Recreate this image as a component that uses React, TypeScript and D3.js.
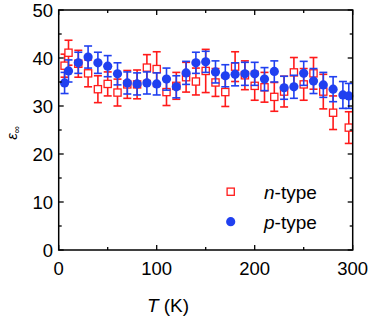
import React from 'react'
import * as d3 from 'd3'

// n-type (open red squares)
const tempN = [6, 10, 20, 30, 40, 50, 60, 70, 80, 90, 100, 110, 120, 130, 140, 150, 160, 170, 180, 190, 200, 210, 220, 230, 240, 250, 260, 270, 280, 296]
const epsN = [38.4, 41.1, 38.8, 36.8, 33.5, 34.6, 32.8, 34.5, 34.5, 38.0, 37.7, 32.9, 34.2, 36.0, 35.1, 37.3, 34.9, 32.9, 38.2, 36.4, 34.2, 33.9, 31.9, 33.0, 37.0, 34.5, 36.8, 33.0, 28.6, 25.5]
const errN = [2.4, 2.6, 2.8, 2.8, 2.8, 2.5, 2.8, 2.9, 3.0, 2.7, 3.6, 2.8, 2.8, 3.1, 2.8, 4.5, 2.9, 3.0, 3.1, 3.0, 3.0, 3.1, 3.0, 3.2, 3.1, 3.3, 3.3, 3.6, 3.5, 3.3]

// p-type (filled blue circles)
const tempP = [6, 10, 20, 30, 40, 50, 60, 70, 80, 90, 100, 110, 120, 130, 140, 150, 160, 170, 180, 190, 200, 210, 220, 230, 240, 250, 260, 270, 280, 290, 296]
const epsP = [34.8, 37.3, 39.0, 40.2, 39.0, 38.3, 36.7, 34.8, 34.6, 34.8, 34.6, 35.6, 34.0, 36.9, 39.0, 39.2, 37.1, 36.3, 36.6, 36.7, 36.7, 35.6, 37.2, 33.8, 34.0, 36.8, 35.2, 34.4, 33.5, 32.3, 32.1]
const errP = [2.2, 2.3, 2.2, 2.3, 2.2, 2.2, 2.3, 2.3, 2.3, 2.3, 2.3, 2.3, 2.3, 2.4, 2.2, 2.2, 2.3, 2.3, 2.4, 2.4, 2.4, 2.4, 2.2, 2.4, 2.4, 2.5, 2.6, 2.6, 2.6, 2.8, 2.6]

const xTicks = [0, 100, 200, 300]
const xMinor = [50, 150, 250]
const yTicks = [0, 10, 20, 30, 40, 50]
const yMinor = [5, 15, 25, 35, 45]

const RED = '#ff1a1a'
const BLUE = '#2040f0'

const App = () => {
  const width = 371
  const height = 319
  const x = d3.scaleLinear().domain([0, 300]).range([58.7, 352.7])
  const y = d3.scaleLinear().domain([0, 50]).range([250, 10])
  const font = 'Liberation Sans, Arial, sans-serif'

  const n = tempN.map((t, i) => ({ t, v: epsN[i], e: errN[i] }))
  const p = tempP.map((t, i) => ({ t, v: epsP[i], e: errP[i] }))

  const errBar = (d, i, color) => (
    <g key={i} stroke={color} strokeWidth={1.6}>
      <line x1={x(d.t)} x2={x(d.t)} y1={y(d.v - d.e)} y2={y(d.v + d.e)} />
      <line x1={x(d.t) - 4} x2={x(d.t) + 4} y1={y(d.v - d.e)} y2={y(d.v - d.e)} />
      <line x1={x(d.t) - 4} x2={x(d.t) + 4} y1={y(d.v + d.e)} y2={y(d.v + d.e)} />
    </g>
  )

  return (
    <svg width={width} height={height} style={{ position: 'absolute', left: 0, top: 0 }} fontFamily={font}>
      <rect width={width} height={height} fill="#fff" />

      {/* n-type */}
      {n.map((d, i) => errBar(d, i, RED))}
      {n.map((d, i) => (
        <rect key={i} x={x(d.t) - 3.6} y={y(d.v) - 3.6} width={7.2} height={7.2} fill="#fff" stroke={RED} strokeWidth={1.3} />
      ))}

      {/* p-type */}
      {p.map((d, i) => errBar(d, i, BLUE))}
      {p.map((d, i) => (
        <circle key={i} cx={x(d.t)} cy={y(d.v)} r={4.6} fill={BLUE} />
      ))}

      {/* frame */}
      <rect x={x(0)} y={y(50)} width={x(300) - x(0)} height={y(0) - y(50)} fill="none" stroke="#000" strokeWidth={1.5} />

      {/* x ticks */}
      {xTicks.map((t) => (
        <g key={t} stroke="#000" strokeWidth={1.3}>
          <line x1={x(t)} x2={x(t)} y1={y(0)} y2={y(0) - 5} />
          <line x1={x(t)} x2={x(t)} y1={y(50)} y2={y(50) + 5} />
        </g>
      ))}
      {xMinor.map((t) => (
        <g key={t} stroke="#000" strokeWidth={1.3}>
          <line x1={x(t)} x2={x(t)} y1={y(0)} y2={y(0) - 3} />
          <line x1={x(t)} x2={x(t)} y1={y(50)} y2={y(50) + 3} />
        </g>
      ))}
      {xTicks.map((t) => (
        <text key={t} x={x(t)} y={275} fontSize={18.5} textAnchor="middle">{t}</text>
      ))}

      {/* y ticks */}
      {yTicks.map((t) => (
        <g key={t} stroke="#000" strokeWidth={1.3}>
          <line x1={x(0)} x2={x(0) + 5} y1={y(t)} y2={y(t)} />
          <line x1={x(300)} x2={x(300) - 5} y1={y(t)} y2={y(t)} />
        </g>
      ))}
      {yMinor.map((t) => (
        <g key={t} stroke="#000" strokeWidth={1.3}>
          <line x1={x(0)} x2={x(0) + 3} y1={y(t)} y2={y(t)} />
          <line x1={x(300)} x2={x(300) - 3} y1={y(t)} y2={y(t)} />
        </g>
      ))}
      {yTicks.map((t) => (
        <text key={t} x={53} y={y(t) + 6.6} fontSize={18.5} textAnchor="end">{t}</text>
      ))}

      {/* axis titles */}
      <text x={168} y={312} fontSize={19} textAnchor="middle">
        <tspan fontStyle="italic">T</tspan> (K)
      </text>
      <text transform="translate(17,133) rotate(-90)" fontSize={15} textAnchor="middle">
        <tspan fontStyle="italic">ε</tspan>
        <tspan fontSize={10} dy={3}>∞</tspan>
      </text>

      {/* legend */}
      <rect x={227.1} y={188.1} width={7.2} height={7.2} fill="#fff" stroke={RED} strokeWidth={1.3} />
      <text x={264} y={198.5} fontSize={19}>
        <tspan fontStyle="italic">n</tspan>-type
      </text>
      <circle cx={230.7} cy={221.7} r={4.6} fill={BLUE} />
      <text x={264} y={228.5} fontSize={19}>
        <tspan fontStyle="italic">p</tspan>-type
      </text>
    </svg>
  )
}

export default App
